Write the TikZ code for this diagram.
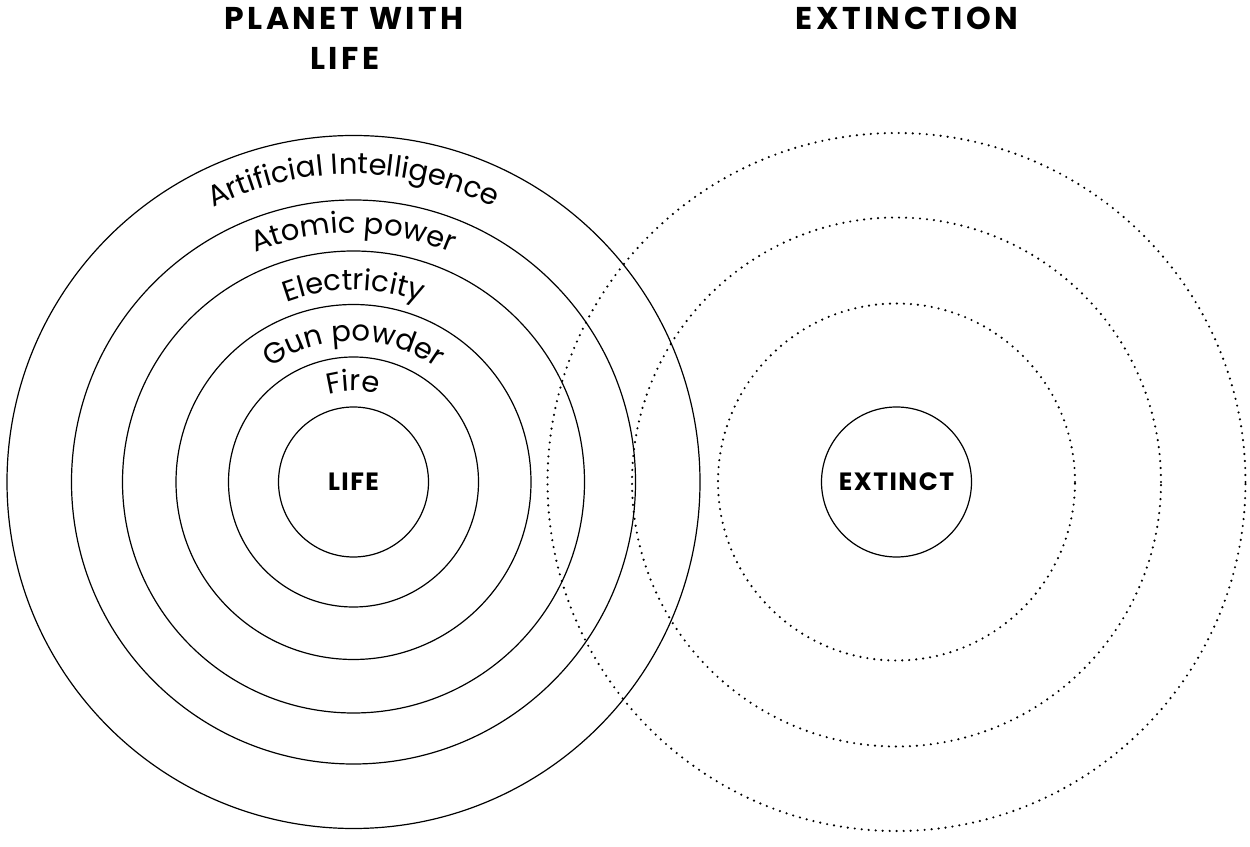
\documentclass[tikz,border=0pt]{standalone}
\usepackage{fontspec}
\setmainfont{Poppins}
\newfontfamily\titlefont[LetterSpace=11]{Poppins}
\newfontfamily\corefont[LetterSpace=6]{Poppins}
\usetikzlibrary{decorations.text}
\newcommand\arclbl{\fontsize{29}{35}\selectfont}
\tikzset{
  ring/.style={draw=black, line width=1.2pt, circle, inner sep=0pt},
  dotring/.style={draw=black, line width=2.4pt, line cap=round, dash pattern=on 0pt off 7pt, circle, inner sep=0pt},
  title/.style={font=\titlefont\bfseries\fontsize{31.5}{36}\selectfont, anchor=base, inner sep=0pt},
  core/.style={font=\corefont\bfseries\fontsize{25}{30}\selectfont},
  arctext/.style={decorate, decoration={text along path, text align=center, text={|\arclbl|#1}}}
}
\begin{document}
\begin{tikzpicture}[x=1pt,y=1pt]
\useasboundingbox (0,0) rectangle (1250,846);
% titles
\node[title] (t1) at (344,816) {PLANET WITH};
\node[title] (t2) at (345,776) {LIFE};
\node[title] (t3) at (907,816) {EXTINCTION};
% left rings
\coordinate (lc) at (353.5,364);
\node[ring, minimum size=150pt, core] (life) at (lc) {LIFE};
\node[ring, minimum size=250pt] (fire) at (lc) {};
\node[ring, minimum size=355pt] (gun) at (lc) {};
\node[ring, minimum size=462pt] (elec) at (lc) {};
\node[ring, minimum size=564pt] (atom) at (lc) {};
\node[ring, minimum size=693pt] (ai) at (lc) {};
% arc labels
\path[arctext={Fire}] (lc) ++(180:91pt) arc[start angle=180, end angle=0, radius=91pt];
\path[arctext={Gun powder}] (lc) ++(180:141pt) arc[start angle=180, end angle=0, radius=141pt];
\path[arctext={Electricity}] (lc) ++(180:192pt) arc[start angle=180, end angle=0, radius=192pt];
\path[arctext={Atomic power}] (lc) ++(180:249pt) arc[start angle=180, end angle=0, radius=249pt];
\path[arctext={Artificial Intelligence}] (lc) ++(180:308pt) arc[start angle=180, end angle=0, radius=308pt];
% right rings
\coordinate (rc) at (896.5,364);
\node[ring, minimum size=150pt, core] (extinct) at (rc) {EXTINCT};
\node[dotring, minimum size=357pt] (d1) at (rc) {};
\node[dotring, minimum size=529pt] (d2) at (rc) {};
\node[dotring, minimum size=698pt] (d3) at (rc) {};
\end{tikzpicture}
\end{document}
